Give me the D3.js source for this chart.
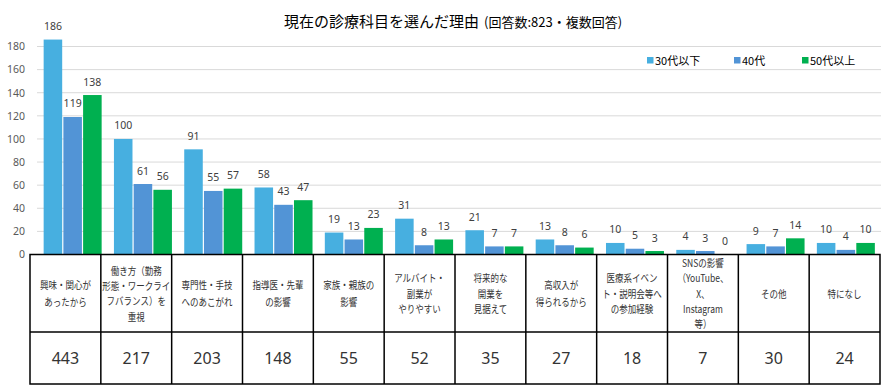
<!DOCTYPE html>
<html><head><meta charset="utf-8">
<script src="https://cdn.jsdelivr.net/npm/d3@7"></script>
<style>
html,body{margin:0;padding:0;background:#fff;}
svg{display:block;font-family:"Noto Sans CJK JP","Noto Sans",sans-serif;}
</style></head>
<body><svg id="c" width="895" height="390"></svg>
<script>
const categories = [
  ["興味・関心が","あったから"],
  ["働き方（勤務","形態・ワークライ","フバランス）を","重視"],
  ["専門性・手技","へのあこがれ"],
  ["指導医・先輩","の影響"],
  ["家族・親族の","影響"],
  ["アルバイト・","副業が","やりやすい"],
  ["将来的な","開業を","見据えて"],
  ["高収入が","得られるから"],
  ["医療系イベン","ト・説明会等へ","の参加経験"],
  ["SNSの影響","（YouTube、","X、","Instagram","等）"],
  ["その他"],
  ["特になし"]
];
const seriesNames = ["30代以下","40代","50代以上"];
const s30 = [186,100,91,58,19,31,21,13,10,4,9,10];
const s40 = [119,61,55,43,13,8,7,8,5,3,7,4];
const s50 = [138,56,57,47,23,13,7,6,3,0,14,10];
const totals = [443,217,203,148,55,52,35,27,18,7,30,24];
const yTicks = [0,20,40,60,80,100,120,140,160,180];
const colors = ["#47afe0","#5294d6","#00b050"];
const title = "現在の診療科目を選んだ理由";
const subtitle = "(回答数:823・複数回答)";

const series = [s30, s40, s50];
const svg = d3.select("#c");
const idx = d3.range(categories.length);

const y = d3.scaleLinear().domain([0,180]).range([254.5,46.5]);
const x0 = d3.scaleBand().domain(idx).range([37.5,881]).paddingInner(0.175).paddingOuter(0.0875);
const x1 = d3.scaleBand().domain(d3.range(3)).range([0,x0.bandwidth()]).paddingInner(0.06);
const xt = d3.scaleBand().domain(idx).range([30,880]);

// gridlines
svg.append("g").selectAll("line").data(yTicks.filter(d=>d>0)).join("line")
  .attr("x1",37).attr("x2",881).attr("y1",d=>y(d)).attr("y2",d=>y(d))
  .attr("stroke","#d9d9d9").attr("stroke-width",1);

// y axis labels
const yAxis = d3.axisLeft(y).tickValues(yTicks).tickSize(0).tickPadding(0);
const ga = svg.append("g").attr("transform","translate(25,0)").call(yAxis);
ga.select(".domain").remove();
ga.selectAll("text").attr("fill","#595959").style("font-size","10.5px")
  .style("font-family","'Noto Sans','DejaVu Sans',sans-serif");

// bars
const groups = svg.append("g").selectAll("g").data(idx).join("g")
  .attr("transform",i=>`translate(${x0(i)},0)`);
groups.selectAll("rect").data(i=>series.map((s,k)=>({k,v:s[i]}))).join("rect")
  .attr("x",d=>x1(d.k)).attr("width",x1.bandwidth())
  .attr("y",d=>y(d.v)).attr("height",d=>y(0)-y(d.v))
  .attr("fill",d=>colors[d.k]);
groups.selectAll("text").data(i=>series.map((s,k)=>({k,v:s[i]}))).join("text")
  .attr("x",d=>x1(d.k)+x1.bandwidth()/2).attr("y",d=>y(d.v)-9.5)
  .attr("text-anchor","middle").attr("fill","#404040")
  .style("font-size","10.5px").style("font-family","'Noto Sans','DejaVu Sans',sans-serif")
  .text(d=>d.v);

// title
const t = svg.append("text").attr("x",284).attr("y",27).attr("fill","#000");
t.append("tspan").style("font-size","15px").text(title);
t.append("tspan").attr("dx",5).style("font-size","13px").text(subtitle);

// legend
const lx = [647,734,802];
seriesNames.forEach((n,k)=>{
  svg.append("rect").attr("x",lx[k]).attr("y",57).attr("width",6.5).attr("height",6.5).attr("fill",colors[k]);
  svg.append("text").attr("x",lx[k]+8).attr("y",64.5).style("font-size","11px").attr("fill","#000").text(n);
});

// table
const tb = svg.append("g");
const rowTop = 254.5, rowMid = 332, rowBot = 384;
tb.append("rect").attr("x",30).attr("y",rowTop).attr("width",850).attr("height",rowBot-rowTop)
  .attr("fill","none").attr("stroke","#000").attr("stroke-width",1.5);
tb.append("line").attr("x1",30).attr("x2",880).attr("y1",rowMid).attr("y2",rowMid)
  .attr("stroke","#000").attr("stroke-width",1.5);
tb.selectAll("line.v").data(idx.slice(1)).join("line").attr("class","v")
  .attr("x1",i=>xt(i)).attr("x2",i=>xt(i)).attr("y1",rowTop).attr("y2",rowBot)
  .attr("stroke","#000").attr("stroke-width",1.5);

idx.forEach(i=>{
  const lines = categories[i];
  const lh = lines.length<=2 ? 16.5 : 15.3;
  const cy = 294;
  const g = tb.append("g").attr("transform",`translate(${xt(i)+xt.bandwidth()/2},${cy}) scale(0.81,1)`);
  const txt = g.append("text").attr("text-anchor","middle")
      .style("font-size","10.5px").attr("fill","#333");
  lines.forEach((l,j)=>{
    txt.append("tspan").attr("x",0).attr("y",(j-(lines.length-1)/2)*lh)
      .attr("dy","0.35em").text(l);
  });
  tb.append("text").attr("x",xt(i)+xt.bandwidth()/2).attr("y",(rowMid+rowBot)/2)
    .attr("dy","0.36em").attr("text-anchor","middle")
    .style("font-size","16px").style("font-family","'Noto Sans','DejaVu Sans',sans-serif")
    .attr("fill","#333").text(totals[i]);
});
</script></body></html>
